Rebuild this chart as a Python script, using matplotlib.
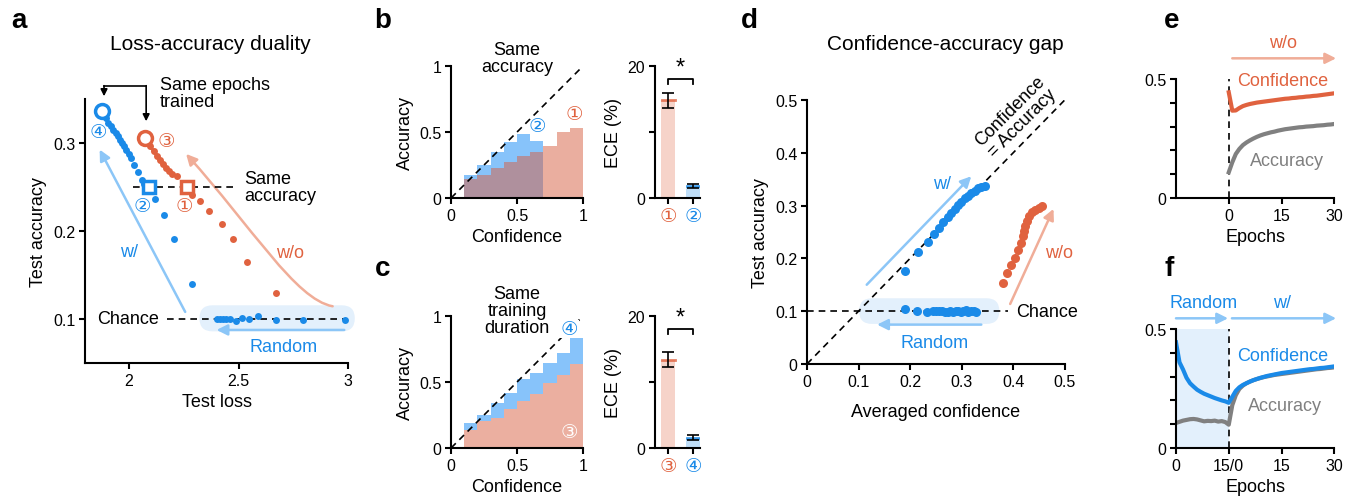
import numpy as np
import matplotlib
matplotlib.use('Agg')
import matplotlib.pyplot as plt
from matplotlib.patches import FancyArrowPatch, FancyBboxPatch
from matplotlib.path import Path

plt.rcParams['font.family'] = ['Liberation Sans', 'DejaVu Sans']
plt.rcParams['axes.linewidth'] = 1.5
plt.rcParams['xtick.major.width'] = 1.5
plt.rcParams['ytick.major.width'] = 1.5
plt.rcParams['xtick.major.size'] = 4
plt.rcParams['ytick.major.size'] = 4
plt.rcParams['xtick.labelsize'] = 11.5
plt.rcParams['ytick.labelsize'] = 11.5
plt.rcParams['axes.labelsize'] = 13

RED = '#e0623f'
BLUE = '#1a8ae8'
LBLUE = '#8cc6f7'
LRED = '#f0ad98'
GRAY = '#808080'
BOX = '#e3f0fc'
HBLUE = '#87c3fa'
HRED = (215 / 255, 95 / 255, 65 / 255)

# ---- a: loss vs accuracy ----
a_w_loss = [1.879, 1.894, 1.905, 1.917, 1.929, 1.94, 1.95, 1.959, 1.97, 1.98,
            1.989, 2.0, 2.011, 2.023, 2.041, 2.06, 2.071, 2.091, 2.121, 2.159,
            2.207, 2.289]
a_w_acc = [0.336, 0.3284, 0.3227, 0.3189, 0.3152, 0.3114, 0.3076, 0.3038, 0.3,
           0.2962, 0.2924, 0.2875, 0.283, 0.2754, 0.267, 0.2583, 0.2534, 0.2496,
           0.2364, 0.2178, 0.1909, 0.1402]
a_rand_loss = [2.40, 2.415, 2.43, 2.445, 2.46, 2.49, 2.514, 2.55, 2.589, 2.669,
               2.796, 2.986]
a_rand_acc = [0.1, 0.1, 0.1005, 0.1, 0.1, 0.098, 0.1015, 0.1005, 0.1036, 0.0989,
              0.0989, 0.0989]
a_wo_loss = [2.076, 2.098, 2.113, 2.128, 2.14, 2.156, 2.169, 2.181, 2.196, 2.219,
             2.264, 2.29, 2.325, 2.367, 2.423, 2.476, 2.538, 2.669]
a_wo_acc = [0.3057, 0.2962, 0.2905, 0.2848, 0.2803, 0.2761, 0.2716, 0.2686,
            0.2648, 0.2621, 0.25, 0.241, 0.2337, 0.223, 0.208, 0.191, 0.165, 0.1295]

# ---- b / c: reliability histograms ----
bin_left = [0.1, 0.2, 0.3, 0.4, 0.5, 0.6, 0.7, 0.8, 0.9]
b_red = [0.141, 0.172, 0.227, 0.273, 0.318, 0.348, 0.394, 0.5, 0.53]
b_blue = [0.172, 0.247, 0.351, 0.427, 0.482, 0.432, 0, 0, 0]
c_red = [0.134, 0.202, 0.227, 0.293, 0.354, 0.412, 0.495, 0.556, 0.634]
c_blue = [0.189, 0.247, 0.343, 0.419, 0.525, 0.571, 0.646, 0.72, 0.833]
b_ece = [14.8, 1.82]
b_err = [1.15, 0.25]
c_ece = [13.4, 1.57]
c_err = [1.1, 0.37]

# ---- d: confidence vs accuracy ----
d_w_conf = [0.1907, 0.215, 0.234, 0.247, 0.2566, 0.264, 0.274, 0.28, 0.2866,
            0.293, 0.2994, 0.3058, 0.312, 0.3186, 0.325, 0.331, 0.3378, 0.3456]
d_w_acc = [0.1755, 0.2115, 0.2304, 0.246, 0.2576, 0.2696, 0.278, 0.286, 0.2936,
           0.301, 0.3074, 0.3138, 0.3188, 0.3239, 0.3283, 0.3327, 0.3359, 0.3377]
d_rand_conf = [0.1907, 0.213, 0.2335, 0.245, 0.25, 0.256, 0.262, 0.268, 0.273,
               0.278, 0.283, 0.288, 0.293, 0.298, 0.303, 0.308, 0.313, 0.318,
               0.323, 0.328]
d_rand_acc = [0.104, 0.101, 0.098, 0.1, 0.1005, 0.1, 0.101, 0.099, 0.098, 0.1,
              0.0985, 0.1, 0.101, 0.099, 0.1, 0.1015, 0.0985, 0.1, 0.1005, 0.099]
d_wo_conf = [0.381, 0.3877, 0.396, 0.404, 0.41, 0.4155, 0.4188, 0.4214, 0.4233,
             0.4266, 0.431, 0.4363, 0.4427, 0.449, 0.4557]
d_wo_acc = [0.1528, 0.1723, 0.188, 0.2008, 0.2165, 0.2285, 0.243, 0.2525, 0.262,
            0.2714, 0.281, 0.2873, 0.2922, 0.2955, 0.2986]

# ---- e / f: training curves ----
e_epochs = np.arange(0, 31)
e_conf = [0.444, 0.367, 0.368, 0.378, 0.386, 0.391, 0.395, 0.398, 0.401, 0.403,
          0.405, 0.407, 0.409, 0.411, 0.413, 0.415, 0.417, 0.418, 0.42, 0.421,
          0.423, 0.424, 0.426, 0.427, 0.429, 0.43, 0.432, 0.434, 0.436, 0.438,
          0.44]
e_acc = [0.108, 0.15, 0.185, 0.206, 0.222, 0.233, 0.242, 0.25, 0.257, 0.263,
         0.268, 0.272, 0.276, 0.279, 0.283, 0.286, 0.289, 0.291, 0.293, 0.295,
         0.297, 0.298, 0.3, 0.301, 0.302, 0.304, 0.305, 0.306, 0.308, 0.309,
         0.311]
f_epochs = np.arange(0, 46)
f_conf = [0.444, 0.36, 0.33, 0.295, 0.272, 0.258, 0.245, 0.236, 0.228, 0.222,
          0.216, 0.21, 0.205, 0.2, 0.196, 0.19, 0.215, 0.24, 0.255, 0.265,
          0.272, 0.279, 0.285, 0.29, 0.295, 0.299, 0.303, 0.306, 0.309, 0.312,
          0.315, 0.317, 0.319, 0.321, 0.323, 0.325, 0.327, 0.329, 0.331, 0.332,
          0.334, 0.336, 0.337, 0.339, 0.341, 0.343]
f_acc = [0.105, 0.11, 0.115, 0.118, 0.121, 0.122, 0.12, 0.116, 0.112, 0.114,
         0.113, 0.115, 0.111, 0.113, 0.109, 0.098, 0.18, 0.222, 0.248, 0.262,
         0.272, 0.279, 0.285, 0.29, 0.294, 0.298, 0.301, 0.304, 0.307, 0.309,
         0.311, 0.313, 0.315, 0.317, 0.319, 0.321, 0.323, 0.325, 0.327, 0.329,
         0.331, 0.332, 0.334, 0.336, 0.337, 0.339]
f_ticklabels = ['0', '15/0', '15', '30']


def style(ax):
    ax.spines['top'].set_visible(False)
    ax.spines['right'].set_visible(False)
    ax.tick_params(direction='out', pad=3)


def arrow(ax, p0, p1, color, lw=1.8, ms=16):
    ar = FancyArrowPatch(p0, p1, arrowstyle='-|>', mutation_scale=ms, lw=lw,
                         color=color, shrinkA=0, shrinkB=0, clip_on=False,
                         zorder=1)
    ax.add_patch(ar)


DASH = dict(color='k', lw=1.2, dashes=(4, 3))

fig = plt.figure(figsize=(13.57, 5.02), dpi=100)

# panel labels
for lab, x, y in [('a', 0.008, 0.985), ('b', 0.276, 0.985), ('c', 0.276, 0.49),
                  ('d', 0.546, 0.985), ('e', 0.858, 0.985), ('f', 0.858, 0.49)]:
    fig.text(x, y, lab, fontsize=20, fontweight='bold', va='top')

fig.text(210 / 1357, 1 - 45 / 502, 'Loss-accuracy duality', fontsize=15,
         ha='center', va='center')
fig.text(945 / 1357, 1 - 45 / 502, 'Confidence-accuracy gap', fontsize=15,
         ha='center', va='center')

# ---------------- a ----------------
ax = fig.add_axes([0.0626, 0.275, 0.194, 0.526])
style(ax)
ax.add_patch(FancyBboxPatch((2.322, 0.0859), 0.708, 0.0296,
                            boxstyle='round,pad=0,rounding_size=0.059',
                            mutation_aspect=0.25, fc=BOX, ec='none',
                            clip_on=False, zorder=0))
ax.plot([2.02, 2.48], [0.25, 0.25], **DASH)
ax.plot([2.174, 2.99], [0.1, 0.1], **DASH)
ax.plot(a_w_loss[:12], a_w_acc[:12], '-', color=BLUE, lw=2.2)
ax.plot(a_w_loss, a_w_acc, 'o', color=BLUE, ms=5, mec='none')
ax.plot(a_rand_loss, a_rand_acc, 'o', color=BLUE, ms=5, mec='none')
ax.plot(a_wo_loss[:10], a_wo_acc[:10], '-', color=RED, lw=2.2)
ax.plot(a_wo_loss, a_wo_acc, 'o', color=RED, ms=5, mec='none')
ax.plot(a_w_loss[0], a_w_acc[0], 'o', ms=10, mfc='white', mec=BLUE, mew=2.5)
ax.plot(a_w_loss[17], a_w_acc[17], 's', ms=9, mfc='white', mec=BLUE, mew=2.5)
ax.plot(a_wo_loss[0], a_wo_acc[0], 'o', ms=10, mfc='white', mec=RED, mew=2.5)
ax.plot(a_wo_loss[10], a_wo_acc[10], 's', ms=9, mfc='white', mec=RED, mew=2.5)
arrow(ax, (2.257, 0.108), (1.867, 0.2924), LBLUE)
arrow(ax, (2.982, 0.0875), (2.40, 0.0875), LBLUE)
# curved w/o arrow
wo_path = Path([(2.929, 0.1144), (2.76, 0.122), (2.56, 0.205), (2.261, 0.2875)],
               [Path.MOVETO, Path.CURVE4, Path.CURVE4, Path.CURVE4])
ax.add_patch(FancyArrowPatch(path=wo_path, arrowstyle='-|>', mutation_scale=16,
                             lw=1.8, color=LRED, clip_on=False, zorder=1))
# same epochs bracket
ax.plot([1.887, 2.079], [0.365, 0.365], color='k', lw=1.2, clip_on=False)
arrow(ax, (1.887, 0.365), (1.887, 0.353), 'k', lw=1.2, ms=10)
arrow(ax, (2.079, 0.365), (2.079, 0.3246), 'k', lw=1.2, ms=10)
ax.text(2.14, 0.357, 'Same epochs\ntrained', fontsize=13, va='center',
        linespacing=1.0)
ax.text(2.525, 0.25, 'Same\naccuracy', fontsize=13, va='center', linespacing=1.0)
ax.text(1.855, 0.1, 'Chance', fontsize=13, va='center')
ax.text(2.705, 0.069, 'Random', fontsize=13, va='center', ha='center', color=BLUE)
ax.text(2.0, 0.177, 'w/', fontsize=13, va='center', ha='center', color=BLUE)
ax.text(2.733, 0.176, 'w/o', fontsize=13, va='center', ha='center', color=RED)
for s, x, y, c in [('④', 1.861, 0.312, BLUE), ('③', 2.169, 0.302, RED),
                   ('②', 2.063, 0.228, BLUE), ('①', 2.252, 0.228, RED)]:
    ax.text(x, y, s, fontsize=14, color=c, ha='center', va='center')
ax.set_xlim(1.8, 3)
ax.set_ylim(0.05, 0.35)
ax.set_xticks([2, 2.5, 3])
ax.set_xticklabels(['2', '2.5', '3'])
ax.set_yticks([0.1, 0.2, 0.3])
ax.set_xlabel('Test loss')
ax.set_ylabel('Test accuracy')


# ---------------- b / c ----------------
def reliability(rect, red, blue, red_kw, title, ty):
    ax = fig.add_axes(rect)
    style(ax)
    ax.bar(bin_left, blue, width=0.1, align='edge', color=HBLUE, lw=0)
    ax.bar(bin_left, red, width=0.1, align='edge', lw=0, **red_kw)
    ax.plot([0, 1], [0, 1], **DASH)
    ax.set_xlim(0, 1)
    ax.set_ylim(0, 1)
    ax.set_xticks([0, 0.5, 1])
    ax.set_xticklabels(['0', '0.5', '1'])
    ax.set_yticks([0, 0.5, 1])
    ax.set_yticklabels(['0', '0.5', '1'])
    ax.set_xlabel('Confidence')
    ax.set_ylabel('Accuracy')
    ax.text(0.5, ty, title, transform=ax.transAxes, fontsize=13, ha='center',
            va='center', linespacing=1.0)
    return ax


def ece(rect, vals, errs, labels):
    ax = fig.add_axes(rect)
    style(ax)
    xs = [0, 1]
    cols = [RED, BLUE]
    for x, v, e, c in zip(xs, vals, errs, cols):
        ax.bar(x, v, width=0.53, color=c, alpha=0.28, lw=0)
        ax.plot([x - 0.26, x + 0.26], [v, v], color=c, lw=2, alpha=0.8)
        ax.errorbar(x, v, yerr=e, color='k', capsize=4, lw=1.2, capthick=1.2)
    ax.plot([0, 0, 1, 1], [17.2, 18, 18, 17.2], color='k', lw=1.3,
            clip_on=False)
    ax.text(0.5, 18.1, '*', fontsize=17, ha='center', va='bottom')
    ax.set_xlim(-0.52, 1.28)
    ax.set_ylim(0, 20)
    ax.set_yticks([0, 10, 20])
    ax.set_yticklabels(['0', '', '20'])
    ax.set_xticks(xs)
    ax.set_xticklabels(labels, fontsize=14)
    for t, c in zip(ax.get_xticklabels(), cols):
        t.set_color(c)
    ax.set_ylabel('ECE (%)')
    return ax


ax = reliability([0.3324, 0.6036, 0.0973, 0.263], b_red, b_blue,
                 dict(color=HRED, alpha=0.5), 'Same\naccuracy', 1.06)
ax.text(0.65, 0.545, '②', fontsize=14, color=BLUE, ha='center', va='center')
ax.text(0.93, 0.63, '①', fontsize=14, color=RED, ha='center', va='center')
ece([0.4827, 0.6036, 0.0332, 0.263], b_ece, b_err, ['①', '②'])

ax = reliability([0.3324, 0.1056, 0.0973, 0.263], c_red, c_blue,
                 dict(color='#ebafa0'), 'Same\ntraining\nduration', 1.045)
ax.text(0.894, 0.9, '④', fontsize=14, color=BLUE, ha='center', va='center',
        bbox=dict(fc='white', ec='none', pad=0.5))
ax.text(0.894, 0.12, '③', fontsize=14, color='white', ha='center', va='center')
ece([0.4827, 0.1056, 0.0332, 0.263], c_ece, c_err, ['③', '④'])

# ---------------- d ----------------
ax = fig.add_axes([0.5947, 0.273, 0.190, 0.526])
style(ax)
ax.add_patch(FancyBboxPatch((0.101, 0.0758), 0.272, 0.0486,
                            boxstyle='round,pad=0,rounding_size=0.0249',
                            mutation_aspect=0.975, fc=BOX, ec='none', zorder=0))
ax.plot([0, 0.5], [0, 0.5], **DASH)
ax.plot([0, 0.389], [0.1, 0.1], **DASH)
ax.plot(d_w_conf, d_w_acc, 'o', color=BLUE, ms=6.5, mec='none')
ax.plot(d_rand_conf, d_rand_acc, 'o', color=BLUE, ms=6.5, mec='none')
ax.plot(d_wo_conf, d_wo_acc, 'o', color=RED, ms=6.5, mec='none')
arrow(ax, (0.1158, 0.150), (0.3186, 0.3554), LBLUE)
arrow(ax, (0.338, 0.0745), (0.136, 0.0745), LBLUE)
arrow(ax, (0.394, 0.1136), (0.478, 0.2936), LRED)
ax.text(0.261, 0.341, 'w/', fontsize=13, color=BLUE, ha='center', va='center')
ax.text(0.248, 0.041, 'Random', fontsize=13, color=BLUE, ha='center',
        va='center')
ax.text(0.488, 0.2115, 'w/o', fontsize=13, color=RED, ha='center', va='center')
ax.text(0.405, 0.1, 'Chance', fontsize=13, va='center')
ax.text(0.405, 0.468, 'Confidence\n= Accuracy', fontsize=13, rotation=45,
        ha='center', va='center', rotation_mode='anchor', linespacing=1.0)
ax.set_xlim(0, 0.5)
ax.set_ylim(0, 0.5)
ticks = [0, 0.1, 0.2, 0.3, 0.4, 0.5]
ax.set_xticks(ticks)
ax.set_xticklabels(['0', '0.1', '0.2', '0.3', '0.4', '0.5'])
ax.set_yticks(ticks)
ax.set_yticklabels(['0', '0.1', '0.2', '0.3', '0.4', '0.5'])
ax.set_xlabel('Averaged confidence', labelpad=10)
ax.set_ylabel('Test accuracy')

# ---------------- e ----------------
ax = fig.add_axes([0.8666, 0.6036, 0.1167, 0.237])
style(ax)
ax.plot([0, 0], [0, 0.5], **DASH)
ax.plot(e_epochs, e_acc, color=GRAY, lw=3)
ax.plot(e_epochs, e_conf, color=RED, lw=3)
arrow(ax, (1, 0.587), (30.5, 0.587), LRED)
ax.text(15.3, 0.654, 'w/o', fontsize=13, color=RED, ha='center', va='center')
ax.text(15.3, 0.493, 'Confidence', fontsize=13, color=RED, ha='center',
        va='center')
ax.text(16.4, 0.157, 'Accuracy', fontsize=13, color=GRAY, ha='center',
        va='center')
ax.set_xlim(-15, 30)
ax.set_ylim(0, 0.5)
ax.set_xticks([0, 15, 30])
ax.set_yticks([0, 0.1, 0.2, 0.3, 0.4, 0.5])
ax.set_yticklabels(['0', '', '', '', '', '0.5'])
ax.set_xlabel('Epochs')

# ---------------- f ----------------
ax = fig.add_axes([0.8666, 0.1056, 0.1167, 0.237])
style(ax)
ax.axvspan(0, 15, color=BOX, lw=0, zorder=0)
ax.plot([15, 15], [0, 0.5], **DASH)
ax.plot(f_epochs, f_acc, color=GRAY, lw=3)
ax.plot(f_epochs, f_conf, color=BLUE, lw=3)
arrow(ax, (0, 0.545), (14.8, 0.545), LBLUE)
arrow(ax, (15.9, 0.545), (45.5, 0.545), LBLUE)
ax.text(7.7, 0.613, 'Random', fontsize=13, color=BLUE, ha='center', va='center')
ax.text(30, 0.613, 'w/', fontsize=13, color=BLUE, ha='center', va='center')
ax.text(30.4, 0.388, 'Confidence', fontsize=13, color=BLUE, ha='center',
        va='center')
ax.text(31, 0.178, 'Accuracy', fontsize=13, color=GRAY, ha='center',
        va='center')
ax.set_xlim(0, 45)
ax.set_ylim(0, 0.5)
ax.set_xticks([0, 15, 30, 45])
ax.set_xticklabels(f_ticklabels)
ax.set_yticks([0, 0.1, 0.2, 0.3, 0.4, 0.5])
ax.set_yticklabels(['0', '', '', '', '', '0.5'])
ax.set_xlabel('Epochs')

fig.savefig('out.png', dpi=100)
